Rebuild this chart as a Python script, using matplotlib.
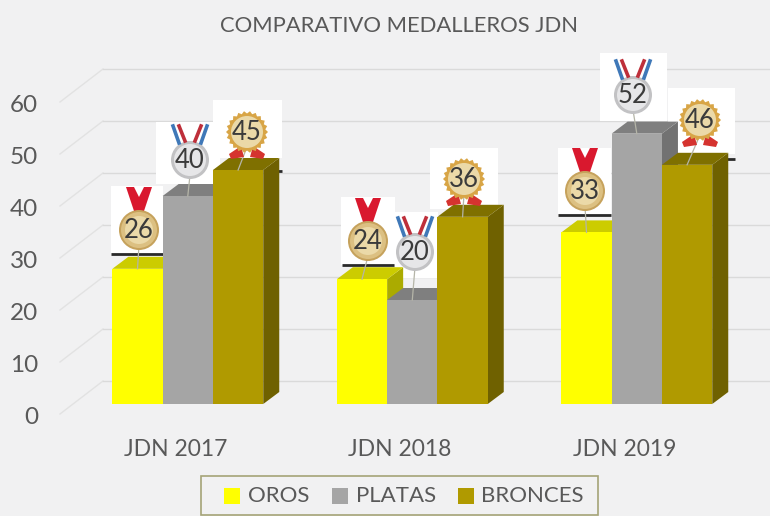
import math
import matplotlib
matplotlib.use("Agg")
import matplotlib.pyplot as plt
from matplotlib.patches import Polygon, Circle, Rectangle

# ---- data ----
categories = ["JDN 2017", "JDN 2018", "JDN 2019"]
oros = [26, 24, 33]
platas = [40, 20, 52]
bronces = [45, 36, 46]
series_names = ["OROS", "PLATAS", "BRONCES"]
y_ticks = [0, 10, 20, 30, 40, 50, 60]
title = "COMPARATIVO MEDALLEROS JDN"

# ---- style ----
W, H = 770, 516
BG = "#F1F1F2"
FONT = ["Lato", "DejaVu Sans"]
TXT = "#595959"
front = ["#FFFF00", "#A5A5A5", "#B09A00"]
top = ["#CCCC00", "#7F7F7F", "#7F7000"]
side = ["#ABAB00", "#727272", "#6F6100"]
X0, GROUP, BARW = 187.8, 224.5, 50.3     # px
Y0, PXU = 404.0, 5.2                     # px, px/unit
DX, DY = 16, 12                          # bar depth in px

fig = plt.figure(figsize=(W / 100, H / 100), dpi=100, facecolor=BG)
ax = fig.add_axes([0, 0, 1, 1])
ax.patch.set_visible(False)
ax.set_xlim(-X0 / GROUP, (W - X0) / GROUP)
ax.set_ylim((Y0 - H) / PXU, Y0 / PXU)
ax.axis("off")
ax.set_zorder(1)

dec = fig.add_axes([0, 0, 1, 1], facecolor="none")
dec.set_xlim(0, W)
dec.set_ylim(H, 0)
dec.axis("off")
dec.set_zorder(2)

ux, uy = 1 / GROUP, 1 / PXU
depth_x, depth_y = DX * ux, DY * uy
bw = BARW * ux

# walls / gridlines
wall_x0 = (60 - X0) * ux
wall_x1 = (103 - X0) * ux
wall_end = (W - X0) * ux
for t in y_ticks:
    ax.plot([wall_x0, wall_x1], [t - 10 * uy, t + 23 * uy],
            color="#E2E2E2", lw=1.0, zorder=1)
    ax.plot([wall_x1, wall_end], [t + 23 * uy, t + 23 * uy],
            color="#DADADA", lw=1.0, zorder=1)
    ax.text((38 - X0) * ux, t - 13.5 * uy, str(t), ha="right", va="center",
            fontsize=17.5, color=TXT, family=FONT)

# medal backing boxes (behind the bars): (x, y, w, h) px
boxes = [(111, 186, 52, 67), (156, 122, 64, 62), (213, 100, 69, 58),
         (341, 197, 54, 68), (395, 212, 43, 66), (430, 148, 68, 61),
         (558, 148, 53, 66), (600, 53, 67, 68), (668, 88, 67, 66)]
for b in boxes:
    dec.add_patch(Rectangle((b[0], b[1]), b[2], b[3], fc="white", ec="none"))

# dark dash under the pictures
dashes = [(111, 163, 253.5), (278, 282, 170.5), (342, 394, 265),
          (558, 611, 215), (727, 735, 159)]
for x1, x2, y in dashes:
    dec.plot([x1, x2], [y, y], color="#2A2A2A", lw=2.0, solid_capstyle="butt")

# bars
bars = fig.add_axes([0, 0, 1, 1], facecolor="none")
bars.set_xlim(ax.get_xlim())
bars.set_ylim(ax.get_ylim())
bars.axis("off")
bars.set_zorder(3)

all_series = [oros, platas, bronces]
for s, vals in enumerate(all_series):
    for g, v in enumerate(vals):
        left = g + (s - 1.5) * bw
        right = left + bw
        bars.add_patch(Polygon([(right, 0), (right + depth_x, depth_y),
                                (right + depth_x, v + depth_y), (right, v)],
                               fc=side[s], ec="none", zorder=2 + s))
        bars.add_patch(Polygon([(left, v), (right, v),
                                (right + depth_x, v + depth_y),
                                (left + depth_x, v + depth_y)],
                               fc=top[s], ec="none", zorder=2 + s))
    bars.bar([g + (s - 1) * bw for g in range(3)], vals, width=bw,
             color=front[s], zorder=2 + s, linewidth=0)

# category labels
for g, c in enumerate(categories):
    bars.text(g - 12.5 * ux, (Y0 - 450) * uy, c, ha="center", va="center",
              fontsize=16.5, color=TXT, family=FONT)

# medals overlay
med = fig.add_axes([0, 0, 1, 1], facecolor="none")
med.set_xlim(0, W)
med.set_ylim(H, 0)
med.axis("off")
med.set_zorder(4)


def gold(cx, cy, r=20):
    med.add_patch(Polygon([(cx - 13, cy - 43), (cx - 5, cy - 43), (cx, cy - 33),
                           (cx + 5, cy - 43), (cx + 13, cy - 43), (cx + 5, cy - 19),
                           (cx - 5, cy - 19)], fc="#D9182E", ec="none"))
    med.add_patch(Circle((cx, cy), r, fc="#C6A25C", ec="none"))
    med.add_patch(Circle((cx, cy), r - 2, fc="#DCC082", ec="none"))
    med.add_patch(Circle((cx, cy), r - 6, fc="#EBD9A8", ec="none"))


def silver(cx, cy, r=19):
    for sgn in (-1, 1):
        med.plot([cx + sgn * 17, cx + sgn * 11], [cy - 34, cy - 17], color="#3F78B8", lw=2.6)
        med.plot([cx + sgn * 11, cx + sgn * 5], [cy - 34, cy - 19], color="#BE2F3A", lw=2.6)
    med.add_patch(Circle((cx, cy), r, fc="#C2C2C4", ec="none"))
    med.add_patch(Circle((cx, cy), r - 3, fc="#E6E6E8", ec="none"))


def bronze(cx, cy, r=21):
    med.add_patch(Polygon([(cx - 6, cy + 14), (cx - 18, cy + 22), (cx - 16, cy + 27), (cx - 3, cy + 25)],
                          fc="#D5332F", ec="none"))
    med.add_patch(Polygon([(cx + 6, cy + 14), (cx + 18, cy + 22), (cx + 16, cy + 27), (cx + 3, cy + 25)],
                          fc="#D5332F", ec="none"))
    n = 44
    pts = [(cx + (r if k % 2 == 0 else r - 2.5) * math.cos(2 * math.pi * k / n),
            cy + (r if k % 2 == 0 else r - 2.5) * math.sin(2 * math.pi * k / n)) for k in range(n)]
    med.add_patch(Polygon(pts, fc="#D8A546", ec="none"))
    med.add_patch(Circle((cx, cy), r - 5, fc="#EBD9A8", ec="none"))


centers = [[(139, 230), (190, 160), (247, 132)],
           [(368, 241), (415, 252), (464, 179)],
           [(585, 191), (633, 95), (700, 120)]]
painters = [gold, silver, bronze]
for g in range(3):
    for s, vals in enumerate(all_series):
        cx, cy = centers[g][s]
        # leader line from bar top to medal
        bx = X0 + g * GROUP + (s - 1) * BARW
        by = Y0 - vals[g] * PXU
        med.plot([cx, bx], [cy + 15, by], color="#B5B5A8", lw=0.9, zorder=1)
        painters[s](cx, cy)
        med.text(cx, cy + 0.5, str(vals[g]), ha="center", va="center",
                 fontsize=18.5, color="#3B3B3B", family=FONT, zorder=5)

# title
med.text(399.5, 25.5, title, ha="center", va="center", fontsize=15.8,
         color=TXT, family=FONT)

# legend
med.add_patch(Rectangle((200.5, 476), 397, 39, fc=BG, ec="#A5A377", lw=1.2))
items = [(224, 248, series_names[0]), (332, 356, series_names[1]), (458, 481, series_names[2])]
for i, (x, tx, name) in enumerate(items):
    med.add_patch(Rectangle((x, 488), 16, 16, fc=front[i], ec="none"))
    med.text(tx, 496, name, ha="left", va="center", fontsize=16, color=TXT, family=FONT)

fig.savefig("out.png", dpi=100, facecolor=BG)
